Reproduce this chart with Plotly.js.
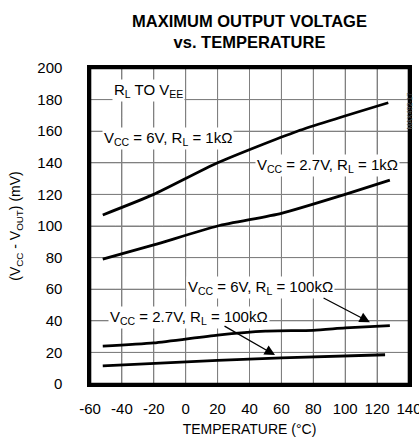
<!DOCTYPE html>
<html><head><meta charset="utf-8">
<script src="https://cdn.plot.ly/plotly-3.0.1.min.js"></script>
<style>html,body{margin:0;padding:0;background:#fff}#chart{width:419px;height:442px}</style>
</head><body><div id="chart"></div>
<script>
// Data
const temp6V1k = [-52, -20, 20, 70, 127];
const val6V1k  = [107, 120, 140, 160, 178];
const temp27V1k = [-52, -20, 20, 60, 100, 128];
const val27V1k  = [79, 88, 100, 108, 120, 129];
const temp6V100k = [-52, -20, 20, 50, 80, 100, 128];
const val6V100k  = [24, 26, 31, 33.5, 34, 35.5, 37];
const temp27V100k = [-52, 20, 60, 125];
const val27V100k  = [11.5, 15, 16.5, 18.5];
const xTicks = [-60, -40, -20, 0, 20, 40, 60, 80, 100, 120, 140];
const yTicks = [0, 20, 40, 60, 80, 100, 120, 140, 160, 180, 200];
const xRange = [-60, 140];
const yRange = [0, 200];

const FAM = 'Liberation Sans, Arial, sans-serif';

// grid lines built from the tick arrays, one trace per line
const gridTraces = [];
xTicks.slice(1, -1).forEach(v => gridTraces.push({x: [v, v, v], y: [yRange[0], (yRange[0] + yRange[1]) / 2, yRange[1]], mode: 'lines',
  line: {color: '#808080', width: 1, shape: 'spline'}, hoverinfo: 'skip'}));
yTicks.slice(1, -1).forEach(v => gridTraces.push({x: [xRange[0], (xRange[0] + xRange[1]) / 2, xRange[1]], y: [v, v, v], mode: 'lines',
  line: {color: '#808080', width: 1, shape: 'spline'}, hoverinfo: 'skip'}));
const frameTrace = {x: [xRange[0], xRange[1], xRange[1], xRange[0], xRange[0]], y: [yRange[0], yRange[0], yRange[1], yRange[1], yRange[0]],
  mode: 'lines', line: {color: '#000', width: 2.6, shape: 'spline', smoothing: 0}, hoverinfo: 'skip', cliponaxis: false};

const lineStyle = {color: '#000', width: 2.8, shape: 'spline', smoothing: 0.6};
const series = [[temp6V1k, val6V1k], [temp27V1k, val27V1k], [temp6V100k, val6V100k], [temp27V100k, val27V100k]];
const traces = gridTraces.concat(series.map(s => ({x: s[0], y: s[1], mode: 'lines', line: lineStyle, hoverinfo: 'skip'}))).concat([frameTrace]);

const fnt = {family: FAM, size: 15, color: '#000'};
function lab(text, x, y) {
  return {text: text, x: x, y: y, xref: 'x', yref: 'y', showarrow: false, bgcolor: '#fff', font: fnt, borderpad: 1};
}
function arrow(x, y, ax, ay) {
  return {text: '', x: x, y: y, ax: ax, ay: ay, xref: 'x', yref: 'y', axref: 'x', ayref: 'y',
    showarrow: true, arrowhead: 2, arrowsize: 1.6, arrowwidth: 1.3, arrowcolor: '#000'};
}

const layout = {
  width: 419, height: 442,
  margin: {l: 90, r: 10, t: 68, b: 58},
  paper_bgcolor: '#fff', plot_bgcolor: '#fff',
  showlegend: false,
  font: fnt,
  xaxis: {range: xRange, tickvals: xTicks, ticktext: xTicks.map(String), showgrid: true, gridcolor: '#808080', gridwidth: 1,
    zeroline: false, showline: true, linecolor: '#000', linewidth: 2.6, mirror: true,
    ticks: 'outside', ticklen: 9, tickcolor: 'rgba(0,0,0,0)', ticklabeloverflow: 'allow',
    tickfont: fnt, title: {text: 'TEMPERATURE (°C)', font: {family: FAM, size: 14, color: '#000'}, standoff: 9}},
  yaxis: {range: yRange, tickvals: yTicks, ticktext: yTicks.map(String), showgrid: true, gridcolor: '#808080', gridwidth: 1,
    zeroline: false, showline: true, linecolor: '#000', linewidth: 2.6, mirror: true,
    ticks: 'outside', ticklen: 22, tickcolor: 'rgba(0,0,0,0)',
    tickfont: fnt, title: {text: '(V<sub>CC</sub> - V<sub>OUT</sub>) (mV)', font: {family: FAM, size: 14, color: '#000'}, standoff: 14}},
  annotations: [
    {text: '<b>MAXIMUM OUTPUT VOLTAGE<br>vs. TEMPERATURE</b>', xref: 'paper', yref: 'paper', x: 0.5, y: 1.115,
     xanchor: 'center', yanchor: 'middle', showarrow: false, font: {family: FAM, size: 16.5, color: '#000'}},
    lab('R<sub>L</sub> TO V<sub>EE</sub>', -23.6, 185.5),
    lab('V<sub>CC</sub> = 6V, R<sub>L</sub> = 1kΩ', -11, 155.2),
    lab('V<sub>CC</sub> = 2.7V, R<sub>L</sub> = 1kΩ', 88.6, 138.2),
    lab('V<sub>CC</sub> = 6V, R<sub>L</sub> = 100kΩ', 46.6, 61.2),
    lab('V<sub>CC</sub> = 2.7V, R<sub>L</sub> = 100kΩ', 2, 42.3),
    arrow(115.5, 39.1, 85.5, 54.9),
    arrow(56, 18.3, 23.4, 37.2),
    {text: 'MAX492-17', xref: 'paper', yref: 'paper', x: 1.02, y: 0.93, textangle: -90, showarrow: false,
     font: {family: FAM, size: 7, color: '#555'}}
  ]
};
Plotly.newPlot('chart', traces, layout, {staticPlot: true, displayModeBar: false});
</script></body></html>
